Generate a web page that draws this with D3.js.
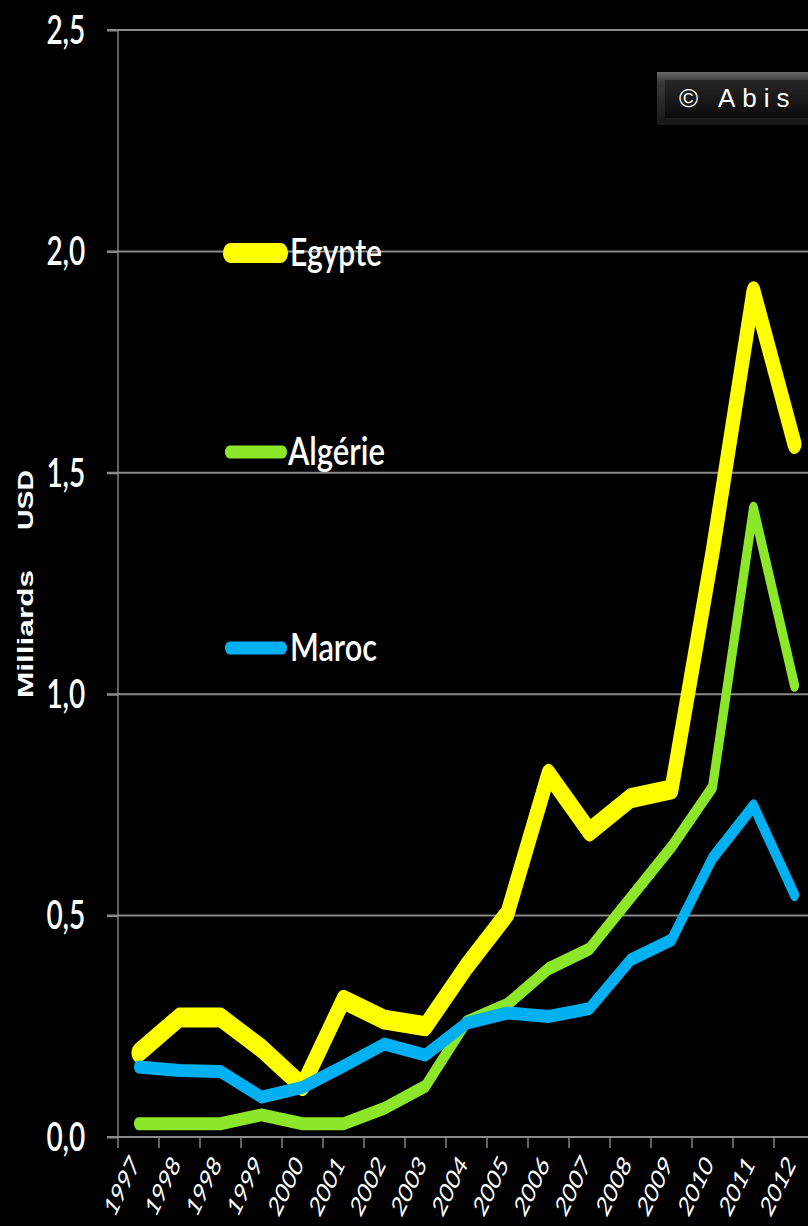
<!DOCTYPE html>
<html>
<head>
<meta charset="utf-8">
<script src="https://cdn.jsdelivr.net/npm/d3@7/dist/d3.min.js"></script>
<style>
  html, body { margin: 0; padding: 0; background: #000; }
  svg { display: block; }
</style>
</head>
<body>
<div id="chart"></div>
<script>
// ---- data ----
const years = ["1997","1998","1998","1999","2000","2001","2002","2003","2004","2005","2006","2007","2008","2009","2010","2011","2012"];
const egypte  = [0.19, 0.27, 0.27, 0.20, 0.115, 0.31, 0.265, 0.25, 0.385, 0.505, 0.82, 0.69, 0.765, 0.785, 1.32, 1.91, 1.565];
const algerie = [0.03, 0.03, 0.03, 0.05, 0.03, 0.03, 0.065, 0.115, 0.26, 0.30, 0.38, 0.425, 0.54, 0.655, 0.79, 1.42, 1.02];
const maroc   = [0.158, 0.15, 0.148, 0.09, 0.112, 0.16, 0.21, 0.185, 0.257, 0.28, 0.272, 0.29, 0.40, 0.445, 0.63, 0.748, 0.547];
const seriesNames = ["Egypte", "Algérie", "Maroc"];
const yTicks = [0, 0.5, 1.0, 1.5, 2.0, 2.5];
const yTitle = ["Milliards", "USD"];
const watermark = "© Abis";

// ---- layout ----
const W = 808, H = 1226;
const K = 0.7; // horizontal compression of the original picture
const plotLeft = 118, plotRight = 118 + 17 * 41, plotTop = 30, plotBottom = 1137;
const colors = ["#FFFF00", "#8CE62A", "#00B0F0"];
const widths = [20, 13, 13];
const gridColor = "#8a8a8a";

const svg = d3.select("#chart").append("svg")
  .attr("width", W).attr("height", H)
  .style("background", "#000");

const g = svg.append("g").attr("transform", `scale(${K},1)`);

const x = d3.scaleBand().domain(d3.range(years.length)).range([plotLeft / K, plotRight / K]);
const cx = i => x(i) + x.bandwidth() / 2;
const y = d3.scaleLinear().domain([0, 2.5]).range([plotBottom, plotTop]);

// gridlines
g.append("g").selectAll("line").data(yTicks.filter(d => d > 0)).join("line")
  .attr("x1", 107 / K).attr("x2", 830 / K)
  .attr("y1", d => y(d)).attr("y2", d => y(d))
  .attr("stroke", gridColor).attr("stroke-width", 2);

// y axis
const yAxis = d3.axisLeft(y).tickValues(yTicks)
  .tickSize((plotLeft - 107) / K)
  .tickPadding(31)
  .tickFormat(d => d3.format(".1f")(d).replace(".", ","));
const ya = g.append("g").attr("transform", `translate(${plotLeft / K},0)`).call(yAxis);
ya.select(".domain").remove();
ya.selectAll(".tick line").attr("stroke", gridColor).attr("stroke-width", 2);
ya.selectAll(".tick text")
  .attr("fill", "#fff")
  .attr("font-family", "Lato, 'Open Sans', sans-serif")
  .attr("font-weight", 600)
  .attr("font-size", 40)
  .attr("dy", "0.33em");
g.append("line")
  .attr("x1", plotLeft / K).attr("x2", plotLeft / K)
  .attr("y1", plotTop).attr("y2", plotBottom + 11)
  .attr("stroke", gridColor).attr("stroke-width", 2);

// x axis
g.append("line")
  .attr("x1", 107 / K).attr("x2", 830 / K)
  .attr("y1", plotBottom).attr("y2", plotBottom)
  .attr("stroke", gridColor).attr("stroke-width", 2);
const bounds = d3.range(years.length + 1).map(i => i < years.length ? x(i) : x.range()[1]);
g.append("g").selectAll("line").data(bounds.slice(1)).join("line")
  .attr("x1", d => d).attr("x2", d => d)
  .attr("y1", plotBottom).attr("y2", plotBottom + 11)
  .attr("stroke", gridColor).attr("stroke-width", 2);
g.append("g").selectAll("text").data(years).join("text")
  .attr("transform", (d, i) => `translate(${cx(i) + 2 / K},1165) rotate(-55)`)
  .attr("text-anchor", "end")
  .attr("fill", "#fff")
  .attr("font-family", "Lato, 'Open Sans', sans-serif")
  .attr("font-size", 28)
  .text(d => d);

// y title
g.append("text")
  .attr("transform", `translate(${33 / K},698) rotate(-90)`)
  .attr("fill", "#fff").attr("font-weight", "bold")
  .attr("font-family", "'Liberation Sans', Arial, sans-serif")
  .attr("font-size", 31)
  .attr("textLength", 128).attr("lengthAdjust", "spacingAndGlyphs")
  .text(yTitle[0]);
g.append("text")
  .attr("transform", `translate(${33 / K},530) rotate(-90)`)
  .attr("fill", "#fff").attr("font-weight", "bold")
  .attr("font-family", "'Liberation Sans', Arial, sans-serif")
  .attr("font-size", 31)
  .attr("textLength", 60).attr("lengthAdjust", "spacingAndGlyphs")
  .text(yTitle[1]);

// series lines
const series = [egypte, algerie, maroc];
const line = d3.line().x((d, i) => cx(i)).y(d => y(d));
g.append("g").selectAll("path").data(series).join("path")
  .attr("d", d => line(d))
  .attr("fill", "none")
  .attr("stroke", (d, i) => colors[i])
  .attr("stroke-width", (d, i) => widths[i])
  .attr("stroke-linejoin", "round")
  .attr("stroke-linecap", "round");

// legend
const legY = [253, 452, 648];
const legLineX = [[230, 281], [229.5, 282.5], [229.5, 282.5]];
const legTextX = [290, 288, 290];
const legTextLen = [92, 97, 87];
const leg = g.append("g").selectAll("g").data(seriesNames).join("g");
leg.append("line")
  .attr("x1", (d, i) => legLineX[i][0] / K).attr("x2", (d, i) => legLineX[i][1] / K)
  .attr("y1", (d, i) => legY[i]).attr("y2", (d, i) => legY[i])
  .attr("stroke", (d, i) => colors[i])
  .attr("stroke-width", (d, i) => widths[i])
  .attr("stroke-linecap", "round");
leg.append("text")
  .attr("x", (d, i) => legTextX[i] / K)
  .attr("y", (d, i) => legY[i] + 13)
  .attr("fill", "#fff")
  .attr("font-family", "Lato, 'Open Sans', sans-serif")
  .attr("font-weight", 600)
  .attr("font-size", 39)
  .attr("textLength", (d, i) => legTextLen[i] / K)
  .attr("lengthAdjust", "spacingAndGlyphs")
  .text(d => d);

// watermark (not compressed)
const defs = svg.append("defs");
const g1 = defs.append("linearGradient").attr("id", "wmOuter").attr("x1", 0).attr("x2", 0).attr("y1", 0).attr("y2", 1);
g1.append("stop").attr("offset", "0%").attr("stop-color", "#6a6a6a");
g1.append("stop").attr("offset", "18%").attr("stop-color", "#3a3a3a");
g1.append("stop").attr("offset", "100%").attr("stop-color", "#161616");
const g2 = defs.append("linearGradient").attr("id", "wmInner").attr("x1", 0).attr("x2", 0).attr("y1", 0).attr("y2", 1);
g2.append("stop").attr("offset", "0%").attr("stop-color", "#262626");
g2.append("stop").attr("offset", "100%").attr("stop-color", "#0c0c0c");
svg.append("rect").attr("x", 657).attr("y", 72).attr("width", 200).attr("height", 53).attr("fill", "url(#wmOuter)");
svg.append("rect").attr("x", 665).attr("y", 80).attr("width", 200).attr("height", 38).attr("fill", "url(#wmInner)");
svg.append("text")
  .attr("x", 679).attr("y", 107)
  .attr("fill", "#fff")
  .attr("font-family", "'Liberation Sans', Arial, sans-serif")
  .attr("font-size", 26)
  .attr("letter-spacing", 7)
  .text(watermark);
</script>
</body>
</html>
